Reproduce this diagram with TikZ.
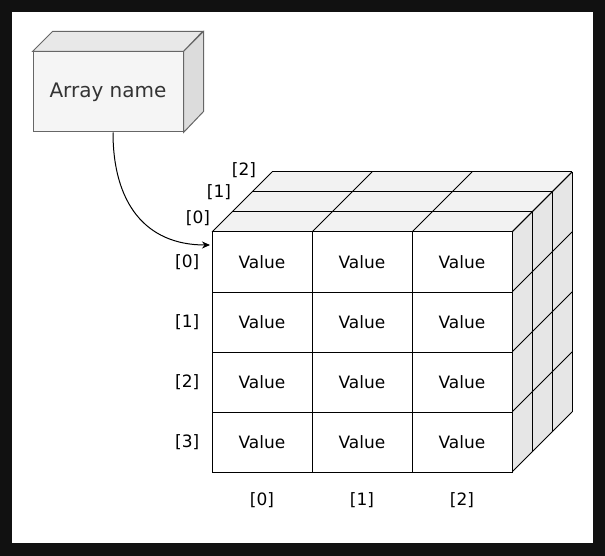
\documentclass[tikz,border=0pt]{standalone}
\usepackage{fontspec}
\setmainfont{DejaVu Sans}
\usetikzlibrary{positioning,arrows.meta}
\definecolor{topgray}{HTML}{F2F2F2}
\definecolor{sidegray}{HTML}{E6E6E6}
\definecolor{boxfront}{HTML}{F5F5F5}
\definecolor{boxtop}{HTML}{E8E8E8}
\definecolor{boxside}{HTML}{DCDCDC}
\definecolor{boxline}{HTML}{666666}
\definecolor{boxtext}{HTML}{333333}
\definecolor{framegray}{HTML}{111111}
\tikzset{cell/.style={draw=black, fill=white, line width=1pt, minimum width=100pt,
                      minimum height=60pt, inner sep=0pt, font=\fontsize{17}{20}\selectfont},
        idxlabel/.style={inner sep=0pt, font=\fontsize{17}{20}\selectfont},
        namebox/.style={draw=boxline, fill=boxfront, line width=1pt, minimum width=150pt,
                        minimum height=80pt, inner sep=0pt, text=boxtext,
                        font=\fontsize{20}{24}\selectfont},
        face/.style={draw=black, line width=1pt},
        link/.style={draw=black, line width=1pt, -{Stealth[length=8pt,width=7pt]}},
        }

\begin{document}
\begin{tikzpicture}[x=1pt, y=-1pt]
    \useasboundingbox (0,0) rectangle (605,556);
    \fill[framegray] (0,0) rectangle (605,556);
    \fill[white] (12,12) rectangle (593,543);

    % array name box
    \node[namebox] (arr) at (108,92) {Array name};
    \filldraw[draw=boxline, fill=boxtop, line width=1pt]
        (arr.north west) -- ++(20,-20) -- ++(150,0) -- (arr.north east) -- cycle;
    \filldraw[draw=boxline, fill=boxside, line width=1pt]
        (arr.north east) -- ++(20,-20) -- ++(0,80) -- (arr.south east) -- cycle;

    % top and side faces of the cube
    \fill[topgray] (212,232) -- (512,232) -- (572,172) -- (272,172) -- cycle;
    \fill[sidegray] (512,232) -- (572,172) -- (572,412) -- (512,472) -- cycle;
    \foreach \k in {0,...,3} {
        \draw[face] (212+20*\k, 232-20*\k) -- (512+20*\k, 232-20*\k);
        \draw[face] (512+20*\k, 232-20*\k) -- (512+20*\k, 472-20*\k);
    }
    \foreach \j in {0,...,3}
        \draw[face] (212+100*\j, 232) -- ++(60,-60);
    \foreach \i in {0,...,4}
        \draw[face] (512, 232+60*\i) -- ++(60,-60);

    % front cells
    \foreach \r in {0,...,3} {
        \foreach \c in {0,...,2} {
            \node[cell] (v-\r-\c) at (262+100*\c, 262+60*\r) {Value};
        }
        \node[idxlabel, left=12pt of v-\r-0] (row-\r) {[\r]};
    }
    \foreach \c in {0,...,2}
        \node[idxlabel, below=20pt of v-3-\c] (col-\c) {[\c]};

    % depth indices
    \node[idxlabel] (dep-0) at (198,218) {[0]};
    \node[idxlabel] (dep-1) at (219,192) {[1]};
    \node[idxlabel] (dep-2) at (244,170) {[2]};

    \coordinate (tip) at (210,245);
    \draw[link] ([xshift=5pt]arr.south) .. controls +(0,70) and +(-65,0) .. (tip);

\end{tikzpicture}
\end{document}
